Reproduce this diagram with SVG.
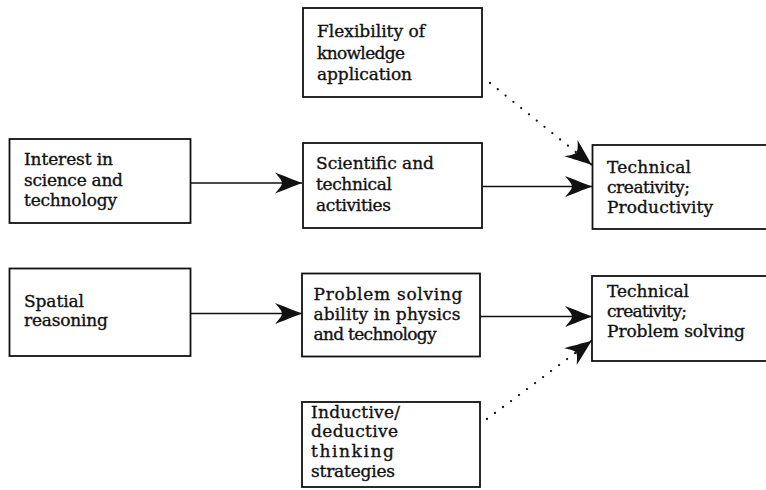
<svg xmlns="http://www.w3.org/2000/svg" width="766" height="490" viewBox="0 0 766 490">
<style>
.box{fill:#fff;stroke:#111;stroke-width:1.8}
.t{font-family:"DejaVu Serif","Liberation Serif",serif;font-size:17px;fill:#111;stroke:#111;stroke-width:0.35}
.ln{fill:none;stroke:#111;stroke-width:1.6}
.dot{fill:none;stroke:#111;stroke-width:2.3;stroke-linecap:round;stroke-dasharray:0 10}
</style>
<defs>
<marker id="ah" markerUnits="userSpaceOnUse" markerWidth="30" markerHeight="22" refX="28" refY="11" orient="auto">
<path d="M28,11 C20,8 9,3.5 1,0.5 C6,6 8,9 8,11 C8,13 6,16 1,21.5 C9,18.5 20,14 28,11 Z" fill="#111"/>
</marker>
</defs>
<rect width="766" height="490" fill="#fff"/>
<g id="connectors">
<line class="ln" x1="191" y1="183" x2="302" y2="183" marker-end="url(#ah)"/>
<line class="ln" x1="482" y1="186.5" x2="592" y2="186.5" marker-end="url(#ah)"/>
<line class="ln" x1="191" y1="313.5" x2="302" y2="313.5" marker-end="url(#ah)"/>
<line class="ln" x1="480" y1="316.5" x2="592" y2="316.5" marker-end="url(#ah)"/>
<line class="dot" x1="490" y1="83" x2="592" y2="165" marker-end="url(#ah)"/>
<line class="dot" x1="487" y1="419" x2="592" y2="340.5" marker-end="url(#ah)"/>
</g>
<g id="flexibility">
<rect class="box" x="303" y="8" width="179" height="89"/>
<text class="t" x="317" y="37" textLength="108" lengthAdjust="spacing">Flexibility of</text>
<text class="t" x="317" y="58.5" textLength="88" lengthAdjust="spacing">knowledge</text>
<text class="t" x="317" y="80" textLength="95" lengthAdjust="spacing">application</text>
</g>
<g id="interest">
<rect class="box" x="9.5" y="139" width="181" height="84"/>
<text class="t" x="24" y="165" textLength="89" lengthAdjust="spacing">Interest in</text>
<text class="t" x="24" y="185.5" textLength="99" lengthAdjust="spacing">science and</text>
<text class="t" x="24" y="206" textLength="93" lengthAdjust="spacing">technology</text>
</g>
<g id="scientific">
<rect class="box" x="303" y="143" width="179" height="85"/>
<text class="t" x="316" y="169" textLength="118" lengthAdjust="spacing">Scientific and</text>
<text class="t" x="316" y="190" textLength="76" lengthAdjust="spacing">technical</text>
<text class="t" x="316" y="210.5" textLength="75" lengthAdjust="spacing">activities</text>
</g>
<g id="productivity">
<rect class="box" x="592.5" y="145" width="200" height="84"/>
<text class="t" x="607" y="173" textLength="84" lengthAdjust="spacing">Technical</text>
<text class="t" x="607" y="193" textLength="83" lengthAdjust="spacing">creativity;</text>
<text class="t" x="607" y="213" textLength="106" lengthAdjust="spacing">Productivity</text>
</g>
<g id="spatial">
<rect class="box" x="9.5" y="268.5" width="181" height="87.5"/>
<text class="t" x="24" y="306.5" textLength="60" lengthAdjust="spacing">Spatial</text>
<text class="t" x="24" y="326" textLength="84" lengthAdjust="spacing">reasoning</text>
</g>
<g id="problem">
<rect class="box" x="302" y="273.5" width="178" height="83"/>
<text class="t" x="313.5" y="299.5" textLength="149" lengthAdjust="spacing">Problem solving</text>
<text class="t" x="313.5" y="320" textLength="147" lengthAdjust="spacing">ability in physics</text>
<text class="t" x="313.5" y="340" textLength="123" lengthAdjust="spacing">and technology</text>
</g>
<g id="problem-solving">
<rect class="box" x="592" y="276" width="200" height="85"/>
<text class="t" x="607" y="296.5" textLength="82" lengthAdjust="spacing">Technical</text>
<text class="t" x="607" y="316.5" textLength="80" lengthAdjust="spacing">creativity;</text>
<text class="t" x="607" y="337" textLength="138" lengthAdjust="spacing">Problem solving</text>
</g>
<g id="inductive">
<rect class="box" x="302" y="402" width="178" height="85"/>
<text class="t" x="311" y="417.5" textLength="89" lengthAdjust="spacing">Inductive/</text>
<text class="t" x="311" y="437" textLength="87" lengthAdjust="spacing">deductive</text>
<text class="t" x="311" y="457" textLength="83" lengthAdjust="spacing">thinking</text>
<text class="t" x="311" y="477" textLength="84" lengthAdjust="spacing">strategies</text>
</g>
</svg>
